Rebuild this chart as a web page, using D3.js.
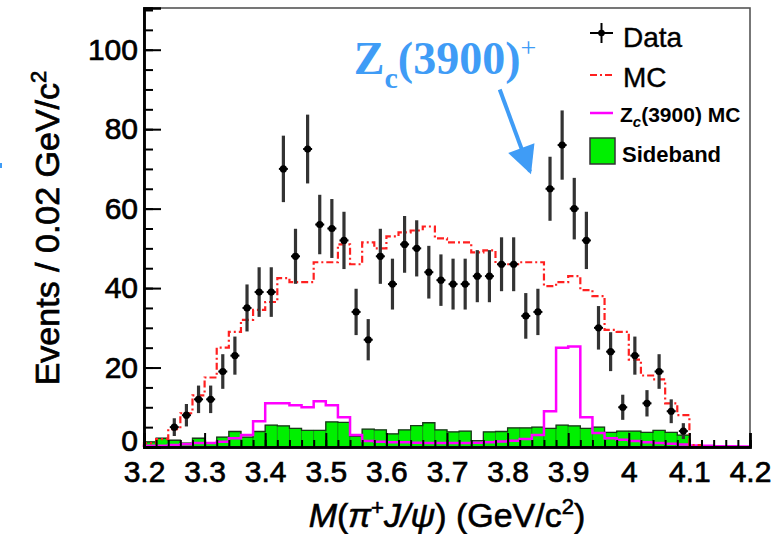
<!DOCTYPE html>
<html>
<head>
<meta charset="utf-8">
<script src="https://cdn.jsdelivr.net/npm/d3@7"></script>
<style>
  body { margin: 0; background: #fff; }
  svg text { font-family: "Liberation Sans", Arial, Helvetica, sans-serif; }
</style>
</head>
<body>
<svg id="chart" width="783" height="534"></svg>
<script>
// 50 bins of 0.02 GeV/c^2 from 3.2 to 4.2
var binStart = 3.2;
var binWidth = 0.02;

var dataCounts = [null, null, 5, 8, 12, 12, 19, 23, 35, 39,
  39, 70, 48, 75, 56, 55, 52, 34, 27, 48,
  41, 51, 50, 44, 42, 41, 41, 43, 43, 46,
  46, 33, 34, 65, 76, 60, 52, 30, 24, 10,
  23, 11, 19, 9, 4, null, null, null, null, null];

var mcCounts = [1, 2, 4.5, 8.5, 13, 17.5, 25, 29, 32, 34.5,
  36.5, 42.5, 41.5, 41.5, 46.5, 46.5, 51, 46, 51.5, 50,
  53, 54, 54.5, 55.5, 52.5, 51.5, 51.5, 49, 49.5, 46,
  46, 46.5, 46.5, 40.5, 41.5, 43, 39.5, 38, 29.5, 29,
  22, 18, 17, 11, 8, 0.5, 0, 0, 0, 0];

var zcCounts = [0.3, 0.3, 0.5, 0.7, 1, 1, 1.3, 2.2, 3, 6.5,
  11, 11, 10.5, 10, 11.5, 10.5, 7.5, 3, 1.5, 1.3,
  1.2, 1.2, 1.1, 1, 1, 1, 1, 1.1, 1.2, 1.4,
  1.6, 2, 3, 9, 25, 25.3, 7.5, 3.5, 2.2, 1.8,
  1.5, 1.2, 1, 0.8, 0.6, 0.4, 0.3, 0.2, 0.2, 0.1];

var sidebandCounts = [1.3, 2.2, 1.7, 1, 2.2, 1, 2.5, 3.9, 2.5, 3.9,
  5.5, 5.3, 4.7, 4.2, 4.2, 6.3, 6.2, 2.7, 4.5, 4.3,
  3.3, 4.3, 5.4, 6.1, 4.3, 3.8, 4, 1.6, 3.8, 3.9,
  4.8, 4.8, 5, 4.7, 5.5, 5.3, 4.7, 5, 3.7, 4,
  4, 3.7, 4.2, 3.7, 3, 0, 0, 0, 0, 0];

var xMajorTicks = [3.2, 3.3, 3.4, 3.5, 3.6, 3.7, 3.8, 3.9, 4.0, 4.1, 4.2];
var yMajorTicks = [0, 20, 40, 60, 80, 100];

var svg = d3.select('#chart');
var margin = {top: 8, right: 33, bottom: 87, left: 144};
var W = 783, H = 534;

var x = d3.scaleLinear().domain([3.2, 4.2]).range([margin.left, W - margin.right]);
var y = d3.scaleLinear().domain([0, 110.5]).range([H - margin.bottom, margin.top]);

function binLo(i) { return binStart + i * binWidth; }

// step outline for a histogram
function histPoints(counts) {
  var pts = [[binLo(0), 0]];
  counts.forEach(function(v, i) { pts.push([binLo(i), v]); });
  pts.push([binLo(counts.length), counts[counts.length - 1]]);
  return pts;
}
var stepLine = d3.line()
  .x(function(d) { return x(d[0]); })
  .y(function(d) { return y(d[1]); })
  .curve(d3.curveStepAfter);

var plot = svg.append('g').attr('id', 'plot');

// sideband (filled green)
plot.append('g').selectAll('rect')
  .data(sidebandCounts)
  .join('rect')
  .attr('x', function(d, i) { return x(binLo(i)); })
  .attr('width', function(d, i) { return x(binLo(i + 1)) - x(binLo(i)); })
  .attr('y', function(d) { return y(d); })
  .attr('height', function(d) { return y(0) - y(d); })
  .attr('fill', '#00f000')
  .attr('stroke', 'rgba(0,60,0,0.45)')
  .attr('stroke-width', 0.8);

plot.append('path')
  .attr('d', stepLine(histPoints(sidebandCounts)))
  .attr('fill', 'none')
  .attr('stroke', '#1a3a1a')
  .attr('stroke-width', 1.3);

// Zc(3900) MC
plot.append('path')
  .attr('d', stepLine(histPoints(zcCounts)))
  .attr('fill', 'none')
  .attr('stroke', '#ff00ff')
  .attr('stroke-width', 2.5);

// MC
plot.append('path')
  .attr('d', stepLine(histPoints(mcCounts)))
  .attr('fill', 'none')
  .attr('stroke', '#ff2020')
  .attr('stroke-width', 2.2)
  .attr('stroke-dasharray', '7,3,2,3');

// data points with sqrt(N) errors
var pts = dataCounts.map(function(v, i) {
  return {m: binLo(i) + binWidth / 2, v: v};
}).filter(function(d) { return d.v !== null; });

var dp = plot.append('g').selectAll('g')
  .data(pts)
  .join('g');
dp.append('line')
  .attr('x1', function(d) { return x(d.m); })
  .attr('x2', function(d) { return x(d.m); })
  .attr('y1', function(d) { return y(d.v - Math.sqrt(d.v)); })
  .attr('y2', function(d) { return y(d.v + Math.sqrt(d.v)); })
  .attr('stroke', '#333')
  .attr('stroke-width', 3.2);
dp.append('line')
  .attr('x1', function(d) { return x(d.m) - 4.5; })
  .attr('x2', function(d) { return x(d.m) + 4.5; })
  .attr('y1', function(d) { return y(d.v); })
  .attr('y2', function(d) { return y(d.v); })
  .attr('stroke', '#000')
  .attr('stroke-width', 2);
dp.append('circle')
  .attr('cx', function(d) { return x(d.m); })
  .attr('cy', function(d) { return y(d.v); })
  .attr('r', 3.6)
  .attr('fill', '#000');

// frame
svg.append('rect')
  .attr('x', x(3.2)).attr('y', y(110.5))
  .attr('width', x(4.2) - x(3.2)).attr('height', y(0) - y(110.5))
  .attr('fill', 'none').attr('stroke', '#555').attr('stroke-width', 1.6);

// axes
var fmt = function(d) { return String(+d.toFixed(1)); };

var yMinor = svg.append('g').attr('transform', 'translate(' + x(3.2) + ',0)')
  .call(d3.axisLeft(y).tickValues(d3.range(0, 111, 5)).tickSize(-9).tickFormat(''));
var yMajor = svg.append('g').attr('transform', 'translate(' + x(3.2) + ',0)')
  .call(d3.axisLeft(y).tickValues(yMajorTicks).tickSize(-17).tickPadding(6).tickFormat(d3.format('d')));

var xMinor = svg.append('g').attr('transform', 'translate(0,' + y(0) + ')')
  .call(d3.axisBottom(x).tickValues(d3.range(0, 51).map(binLo)).tickSize(-7).tickFormat(''));
var xMajor = svg.append('g').attr('transform', 'translate(0,' + y(0) + ')')
  .call(d3.axisBottom(x).tickValues(xMajorTicks).tickSize(-14).tickPadding(14).tickFormat(fmt));

[yMinor, yMajor, xMinor, xMajor].forEach(function(g) {
  g.select('.domain').attr('stroke', '#000').attr('stroke-width', 2.5);
  g.selectAll('.tick line').attr('stroke', '#000').attr('stroke-width', 2);
  g.selectAll('.tick text').attr('fill', '#000').style('font-size', '30px')
    .attr('stroke', '#000').attr('stroke-width', 0.7)
    .attr('font-family', null);
});
yMajor.selectAll('.tick text').filter(function(d) { return d === 0; }).attr('dy', '0.1em');

// axis titles
var yt = svg.append('text')
  .attr('transform', 'translate(59,228) rotate(-90)')
  .attr('text-anchor', 'middle')
  .style('font-size', '34px')
  .attr('fill', '#000').attr('stroke', '#000').attr('stroke-width', 0.7);
yt.append('tspan').text('Events / 0.02 GeV/c');
yt.append('tspan').attr('dy', -13).style('font-size', '22px').text('2');

var xt = svg.append('text')
  .attr('x', 447).attr('y', 527)
  .attr('text-anchor', 'middle')
  .style('font-size', '34px')
  .attr('fill', '#000').attr('stroke', '#000').attr('stroke-width', 0.6);
xt.append('tspan').style('font-style', 'italic').text('M');
xt.append('tspan').text('(');
xt.append('tspan').style('font-style', 'italic').text('\u03c0');
xt.append('tspan').attr('dy', -12).style('font-size', '22px').text('+');
xt.append('tspan').attr('dy', 12).style('font-style', 'italic').text('J/\u03c8');
xt.append('tspan').text(') (GeV/c');
xt.append('tspan').attr('dy', -13).style('font-size', '22px').text('2');
xt.append('tspan').attr('dy', 13).text(')');

// annotation
var blue = '#3f9cf6';
var ann = svg.append('text')
  .attr('x', x(3.5) + 28).attr('y', y(94))
  .attr('fill', blue)
  .style('font-family', '"Liberation Serif", "Times New Roman", serif')
  .style('font-weight', 'bold')
  .style('font-size', '46px');
ann.append('tspan').text('Z');
ann.append('tspan').attr('dy', 14).style('font-size', '30px').text('c');
ann.append('tspan').attr('dy', -14).text('(3900)');
ann.append('tspan').attr('dy', -17).style('font-size', '28px').style('font-weight', 'normal').text('+');

svg.append('defs').append('marker')
  .attr('id', 'arrowhead')
  .attr('viewBox', '0 0 10 10')
  .attr('refX', 9).attr('refY', 5)
  .attr('markerUnits', 'userSpaceOnUse')
  .attr('markerWidth', 30).attr('markerHeight', 28)
  .attr('orient', 'auto')
  .append('path').attr('d', 'M0,0 L10,5 L0,10 Z').attr('fill', blue);

svg.append('line')
  .attr('x1', x(3.787)).attr('y1', y(90))
  .attr('x2', x(3.837)).attr('y2', y(69.3))
  .attr('stroke', blue).attr('stroke-width', 4)
  .attr('marker-end', 'url(#arrowhead)');

// stray blue mark at left edge
svg.append('rect').attr('x', 0).attr('y', 163).attr('width', 2).attr('height', 5).attr('fill', blue);

// legend
var lg = svg.append('g').attr('id', 'legend');
lg.append('line').attr('x1', 590).attr('x2', 613).attr('y1', 33).attr('y2', 33)
  .attr('stroke', '#000').attr('stroke-width', 2);
lg.append('line').attr('x1', 601.5).attr('x2', 601.5).attr('y1', 23).attr('y2', 43)
  .attr('stroke', '#000').attr('stroke-width', 2);
lg.append('circle').attr('cx', 601.5).attr('cy', 33).attr('r', 3.3).attr('fill', '#000');
lg.append('text').attr('x', 623).attr('y', 47).style('font-size', '28px')
  .attr('stroke', '#000').attr('stroke-width', 0.4).text('Data');

lg.append('line').attr('x1', 590).attr('x2', 613).attr('y1', 75).attr('y2', 75)
  .attr('stroke', '#ff2020').attr('stroke-width', 2.2).attr('stroke-dasharray', '7,3,2,3');
lg.append('text').attr('x', 623).attr('y', 87).style('font-size', '28px')
  .attr('stroke', '#000').attr('stroke-width', 0.4).text('MC');

lg.append('line').attr('x1', 590).attr('x2', 613).attr('y1', 113).attr('y2', 113)
  .attr('stroke', '#ff00ff').attr('stroke-width', 2.5);
var zl = lg.append('text').attr('x', 620).attr('y', 122)
  .style('font-size', '21px').style('font-weight', 'bold');
zl.append('tspan').text('Z');
zl.append('tspan').attr('dy', 5).style('font-size', '15px').style('font-style', 'italic').text('c');
zl.append('tspan').attr('dy', -5).text('(3900) MC');

lg.append('rect').attr('x', 590).attr('y', 138).attr('width', 25).attr('height', 26)
  .attr('fill', '#00f000').attr('stroke', '#333').attr('stroke-width', 1.5);
lg.append('text').attr('x', 622).attr('y', 162)
  .style('font-size', '22px').style('font-weight', 'bold').text('Sideband');
</script>
</body>
</html>
